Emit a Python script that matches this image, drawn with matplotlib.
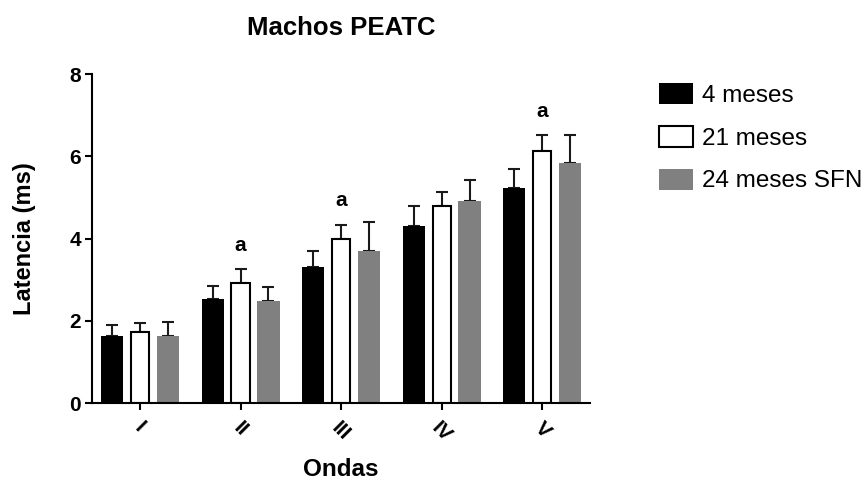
import matplotlib
matplotlib.use("Agg")
import matplotlib.pyplot as plt
import numpy as np
from matplotlib.patches import Patch

plt.rcParams['font.family'] = ['Liberation Sans', 'DejaVu Sans']

# ---- data ----
ondas = ["I", "II", "III", "IV", "V"]
series_names = ["4 meses", "21 meses", "24 meses SFN"]
m4 = [1.64, 2.52, 3.31, 4.30, 5.23]
m4_err = [0.25, 0.32, 0.38, 0.50, 0.46]
m21 = [1.73, 2.92, 3.99, 4.80, 6.13]
m21_err = [0.21, 0.34, 0.35, 0.32, 0.38]
m24 = [1.64, 2.47, 3.70, 4.91, 5.84]
m24_err = [0.33, 0.36, 0.69, 0.51, 0.67]
sig_marks = ["", "a", "a", "", "a"]  # over the 21 meses bars
y_ticks = [0, 2, 4, 6, 8]

# ---- figure ----
fig = plt.figure(figsize=(8.65, 4.8), dpi=100)
ax = fig.add_axes([0.1067, 0.1604, 0.682 - 0.1067, 0.8458 - 0.1604])

x = np.arange(len(ondas))
off = 0.277
lw = 1.5

ax.bar(x - off, m4, width=0.22, color="black", edgecolor="none", zorder=2)
ax.bar(x, m21, width=0.18, color="white", edgecolor="black", linewidth=lw, zorder=2)
ax.bar(x + off, m24, width=0.225, color="#808080", edgecolor="none", zorder=2)

for xs, vals, errs in [(x - off, m4, m4_err), (x, m21, m21_err), (x + off, m24, m24_err)]:
    ax.errorbar(xs, vals, yerr=[np.zeros(len(vals)), errs], fmt="none",
                ecolor="#1a1a1a", elinewidth=lw, capsize=4, capthick=lw, zorder=1)

for xi, v, e, s in zip(x, m21, m21_err, sig_marks):
    if s:
        ax.text(xi, v + e + 0.58, s, ha="center", va="center",
                fontsize=15, fontweight="bold")

ax.set_xlim(-0.474, 4.474)
ax.set_ylim(0, 8)
ax.set_yticks(y_ticks)
ax.set_yticklabels([str(t) for t in y_ticks], fontsize=15, fontweight="bold")
ax.set_xticks(x)
ax.set_xticklabels(ondas, rotation=-45, ha="center", va="top",
                   fontsize=15, fontweight="bold", rotation_mode="default")

for side in ["top", "right"]:
    ax.spines[side].set_visible(False)
for side in ["left", "bottom"]:
    ax.spines[side].set_linewidth(lw)
ax.tick_params(axis="both", direction="out", length=5, width=lw, pad=3)
ax.tick_params(axis="x", pad=6)

ax.set_xlabel("Ondas", fontsize=17.5, fontweight="bold", labelpad=9)
ax.set_ylabel("Latencia (ms)", fontsize=17, fontweight="bold", labelpad=24)
ax.set_title("Machos PEATC", fontsize=18.5, fontweight="bold", pad=28)

handles = [Patch(facecolor="black", edgecolor="none"),
           Patch(facecolor="white", edgecolor="black", linewidth=lw),
           Patch(facecolor="#808080", edgecolor="none")]
fig.legend(handles, series_names, loc="upper left",
           bbox_to_anchor=(0.762, 0.827), frameon=False, fontsize=17.5,
           handlelength=1.4, handleheight=0.95, handletextpad=0.35,
           labelspacing=0.78, borderpad=0, borderaxespad=0)

fig.savefig("out.png", dpi=100)
